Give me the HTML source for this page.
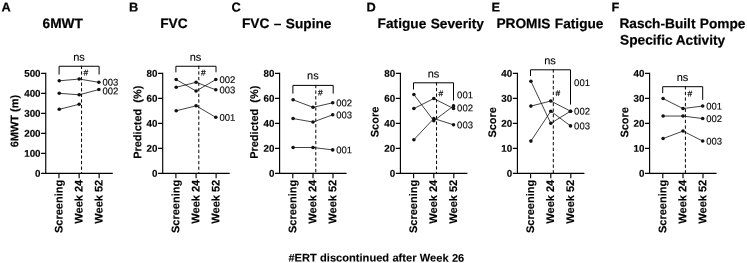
<!DOCTYPE html>
<html lang="en">
<head>
<meta charset="utf-8">
<title>Figure</title>
<style>
html,body{margin:0;padding:0;background:#fff;}
body{width:747px;height:263px;overflow:hidden;}
svg{display:block;font-family:"Liberation Sans", Arial, Helvetica, sans-serif;text-rendering:geometricPrecision;}
.pl{font-size:12.8px;font-weight:bold;fill:#000;stroke:#000;stroke-width:0.2;}
.tt{font-size:13.7px;font-weight:bold;fill:#000;stroke:#000;stroke-width:0.2;word-spacing:0.6px;}
.ns{font-size:11px;fill:#000;stroke:#000;stroke-width:0.12;text-anchor:middle;}
.tk{font-size:9.8px;font-weight:bold;fill:#000;stroke:#000;stroke-width:0.15;text-anchor:end;}
.sl{font-size:9.5px;fill:#000;stroke:#000;stroke-width:0.12;}
.hs{font-size:8.4px;fill:#000;stroke:#000;stroke-width:0.2;}
.al{font-size:11px;font-weight:bold;fill:#000;stroke:#000;stroke-width:0.15;}
.ft{font-size:11.1px;font-weight:bold;fill:#000;stroke:#000;stroke-width:0.1;word-spacing:0.25px;}
.ax{stroke:#000;stroke-width:1.15;fill:none;}
.ln{stroke:#111;stroke-width:0.8;fill:none;}
.br{stroke:#000;stroke-width:1;fill:none;}
.ds{stroke:#000;stroke-width:1;stroke-dasharray:3.3 2.3;fill:none;}
.pt{fill:#111;}
</style>
</head>
<body>
<svg width="747" height="263" viewBox="0 0 747 263">
<rect width="747" height="263" fill="#ffffff"/>
<g>
<text class="pl" transform="translate(1.60 11.40) rotate(0.05)">A</text>
<text class="tt" transform="translate(42.60 28.10) rotate(0.05)">6MWT</text>
<path class="ax" d="M45.75 72.8V173.3M41.15 173.3H112.75"/>
<path class="ax" d="M41.15 153.30H45.75M41.15 133.30H45.75M41.15 113.30H45.75M41.15 93.30H45.75M41.15 73.30H45.75M58.95 173.3V178.3M79.15 173.3V178.3M99.15 173.3V178.3"/>
<text class="tk" transform="translate(40.55 176.80) rotate(0.05)">0</text>
<text class="tk" transform="translate(40.55 156.80) rotate(0.05)">100</text>
<text class="tk" transform="translate(40.55 136.80) rotate(0.05)">200</text>
<text class="tk" transform="translate(40.55 116.80) rotate(0.05)">300</text>
<text class="tk" transform="translate(40.55 96.80) rotate(0.05)">400</text>
<text class="tk" transform="translate(40.55 76.80) rotate(0.05)">500</text>
<text class="al" transform="translate(18.3 121.1) rotate(-89.95)" text-anchor="middle" xml:space="preserve">6MWT (m)</text>
<text class="al" transform="translate(62.45 179.8) rotate(-89.95)" text-anchor="end">Screening</text>
<text class="al" transform="translate(82.45 179.8) rotate(-89.95)" text-anchor="end">Week 24</text>
<text class="al" transform="translate(102.45 179.8) rotate(-89.95)" text-anchor="end">Week 52</text>
<text class="ns" transform="translate(79.00 60.75) rotate(0.05)">ns</text>
<path class="br" d="M59.1 74.55V66.25H99.1V74.55"/>
<path class="ds" d="M81.55 65.75V173.3"/>
<text class="hs" transform="translate(83.60 75.50) rotate(0.05)">#</text>
<polyline class="ln" points="59.25,80.80 79.15,79.05 98.85,82.30"/>
<circle class="pt" cx="59.25" cy="80.80" r="1.8"/>
<circle class="pt" cx="79.15" cy="79.05" r="1.8"/>
<circle class="pt" cx="98.85" cy="82.30" r="1.8"/>
<text class="sl" transform="translate(102.45 85.40) rotate(0.05)">003</text>
<polyline class="ln" points="59.25,93.30 79.15,94.80 98.85,89.55"/>
<circle class="pt" cx="59.25" cy="93.30" r="1.8"/>
<circle class="pt" cx="79.15" cy="94.80" r="1.8"/>
<circle class="pt" cx="98.85" cy="89.55" r="1.8"/>
<text class="sl" transform="translate(102.45 94.20) rotate(0.05)">002</text>
<polyline class="ln" points="59.25,109.30 79.15,104.30"/>
<circle class="pt" cx="59.25" cy="109.30" r="1.8"/>
<circle class="pt" cx="79.15" cy="104.30" r="1.8"/>
</g>
<g>
<text class="pl" transform="translate(129.00 11.40) rotate(0.05)">B</text>
<text class="tt" transform="translate(160.20 28.10) rotate(0.05)">FVC</text>
<path class="ax" d="M162.7 72.8V173.3M158.1 173.3H229.7"/>
<path class="ax" d="M158.1 148.30H162.7M158.1 123.30H162.7M158.1 98.30H162.7M158.1 73.30H162.7M175.89999999999998 173.3V178.3M196.1 173.3V178.3M216.1 173.3V178.3"/>
<text class="tk" transform="translate(157.50 176.80) rotate(0.05)">0</text>
<text class="tk" transform="translate(157.50 151.80) rotate(0.05)">20</text>
<text class="tk" transform="translate(157.50 126.80) rotate(0.05)">40</text>
<text class="tk" transform="translate(157.50 101.80) rotate(0.05)">60</text>
<text class="tk" transform="translate(157.50 76.80) rotate(0.05)">80</text>
<text class="al" transform="translate(141.2 122.2) rotate(-89.95)" text-anchor="middle" xml:space="preserve">Predicted  (%)</text>
<text class="al" transform="translate(179.40 179.8) rotate(-89.95)" text-anchor="end">Screening</text>
<text class="al" transform="translate(199.40 179.8) rotate(-89.95)" text-anchor="end">Week 24</text>
<text class="al" transform="translate(219.40 179.8) rotate(-89.95)" text-anchor="end">Week 52</text>
<text class="ns" transform="translate(195.50 60.75) rotate(0.05)">ns</text>
<path class="br" d="M175.9 72.3V66.25H216.0V72.3"/>
<path class="ds" d="M198.80 65.75V173.3"/>
<text class="hs" transform="translate(200.90 75.50) rotate(0.05)">#</text>
<polyline class="ln" points="176.20,79.55 196.10,91.05 215.80,79.55"/>
<circle class="pt" cx="176.20" cy="79.55" r="1.8"/>
<circle class="pt" cx="196.10" cy="91.05" r="1.8"/>
<circle class="pt" cx="215.80" cy="79.55" r="1.8"/>
<text class="sl" transform="translate(219.40 82.95) rotate(0.05)">002</text>
<polyline class="ln" points="176.20,87.30 196.10,82.30 215.80,89.80"/>
<circle class="pt" cx="176.20" cy="87.30" r="1.8"/>
<circle class="pt" cx="196.10" cy="82.30" r="1.8"/>
<circle class="pt" cx="215.80" cy="89.80" r="1.8"/>
<text class="sl" transform="translate(219.40 93.20) rotate(0.05)">003</text>
<polyline class="ln" points="176.20,110.80 196.10,105.80 215.80,117.30"/>
<circle class="pt" cx="176.20" cy="110.80" r="1.8"/>
<circle class="pt" cx="196.10" cy="105.80" r="1.8"/>
<circle class="pt" cx="215.80" cy="117.30" r="1.8"/>
<text class="sl" transform="translate(219.40 120.70) rotate(0.05)">001</text>
</g>
<g>
<text class="pl" transform="translate(231.50 11.40) rotate(0.05)">C</text>
<text class="tt" transform="translate(242.00 28.10) rotate(0.05)">FVC – Supine</text>
<path class="ax" d="M279.6 72.8V173.3M275.0 173.3H346.6"/>
<path class="ax" d="M275.0 148.30H279.6M275.0 123.30H279.6M275.0 98.30H279.6M275.0 73.30H279.6M292.8 173.3V178.3M313.0 173.3V178.3M333.0 173.3V178.3"/>
<text class="tk" transform="translate(274.40 176.80) rotate(0.05)">0</text>
<text class="tk" transform="translate(274.40 151.80) rotate(0.05)">20</text>
<text class="tk" transform="translate(274.40 126.80) rotate(0.05)">40</text>
<text class="tk" transform="translate(274.40 101.80) rotate(0.05)">60</text>
<text class="tk" transform="translate(274.40 76.80) rotate(0.05)">80</text>
<text class="al" transform="translate(257.9 122.2) rotate(-89.95)" text-anchor="middle" xml:space="preserve">Predicted  (%)</text>
<text class="al" transform="translate(296.30 179.8) rotate(-89.95)" text-anchor="end">Screening</text>
<text class="al" transform="translate(316.30 179.8) rotate(-89.95)" text-anchor="end">Week 24</text>
<text class="al" transform="translate(336.30 179.8) rotate(-89.95)" text-anchor="end">Week 52</text>
<text class="ns" transform="translate(312.90 79.20) rotate(0.05)">ns</text>
<path class="br" d="M292.9 93.6V85.4H333.2V93.6"/>
<path class="ds" d="M315.80 84.90V173.3"/>
<text class="hs" transform="translate(317.90 95.50) rotate(0.05)">#</text>
<polyline class="ln" points="293.10,99.80 313.00,107.30 332.70,102.80"/>
<circle class="pt" cx="293.10" cy="99.80" r="1.8"/>
<circle class="pt" cx="313.00" cy="107.30" r="1.8"/>
<circle class="pt" cx="332.70" cy="102.80" r="1.8"/>
<text class="sl" transform="translate(336.30 106.20) rotate(0.05)">002</text>
<polyline class="ln" points="293.10,118.55 313.00,122.05 332.70,114.80"/>
<circle class="pt" cx="293.10" cy="118.55" r="1.8"/>
<circle class="pt" cx="313.00" cy="122.05" r="1.8"/>
<circle class="pt" cx="332.70" cy="114.80" r="1.8"/>
<text class="sl" transform="translate(336.30 118.20) rotate(0.05)">003</text>
<polyline class="ln" points="293.10,147.50 313.00,147.50 332.70,149.90"/>
<circle class="pt" cx="293.10" cy="147.50" r="1.8"/>
<circle class="pt" cx="313.00" cy="147.50" r="1.8"/>
<circle class="pt" cx="332.70" cy="149.90" r="1.8"/>
<text class="sl" transform="translate(336.30 153.30) rotate(0.05)">001</text>
</g>
<g>
<text class="pl" transform="translate(366.50 11.40) rotate(0.05)">D</text>
<text class="tt" transform="translate(377.60 28.10) rotate(0.05)">Fatigue Severity</text>
<path class="ax" d="M400.4 72.8V173.3M395.79999999999995 173.3H467.4"/>
<path class="ax" d="M395.79999999999995 148.30H400.4M395.79999999999995 123.30H400.4M395.79999999999995 98.30H400.4M395.79999999999995 73.30H400.4M413.59999999999997 173.3V178.3M433.79999999999995 173.3V178.3M453.79999999999995 173.3V178.3"/>
<text class="tk" transform="translate(395.20 176.80) rotate(0.05)">0</text>
<text class="tk" transform="translate(395.20 151.80) rotate(0.05)">20</text>
<text class="tk" transform="translate(395.20 126.80) rotate(0.05)">40</text>
<text class="tk" transform="translate(395.20 101.80) rotate(0.05)">60</text>
<text class="tk" transform="translate(395.20 76.80) rotate(0.05)">80</text>
<text class="al" transform="translate(378.5 122.0) rotate(-89.95)" text-anchor="middle" xml:space="preserve">Score</text>
<text class="al" transform="translate(417.10 179.8) rotate(-89.95)" text-anchor="end">Screening</text>
<text class="al" transform="translate(437.10 179.8) rotate(-89.95)" text-anchor="end">Week 24</text>
<text class="al" transform="translate(457.10 179.8) rotate(-89.95)" text-anchor="end">Week 52</text>
<text class="ns" transform="translate(433.50 77.50) rotate(0.05)">ns</text>
<path class="br" d="M413.5 89.5V82.8H453.5V100.5"/>
<path class="ds" d="M436.55 82.30V173.3"/>
<text class="hs" transform="translate(438.50 96.30) rotate(0.05)">#</text>
<polyline class="ln" points="413.90,94.55 433.80,120.80 453.50,105.90"/>
<circle class="pt" cx="413.90" cy="94.55" r="1.8"/>
<circle class="pt" cx="433.80" cy="120.80" r="1.8"/>
<circle class="pt" cx="453.50" cy="105.90" r="1.8"/>
<text class="sl" transform="translate(457.10 98.20) rotate(0.05)">001</text>
<polyline class="ln" points="413.90,108.55 433.80,98.55 453.50,108.50"/>
<circle class="pt" cx="413.90" cy="108.55" r="1.8"/>
<circle class="pt" cx="433.80" cy="98.55" r="1.8"/>
<circle class="pt" cx="453.50" cy="108.50" r="1.8"/>
<text class="sl" transform="translate(457.10 111.20) rotate(0.05)">002</text>
<polyline class="ln" points="413.90,139.70 433.80,118.50 453.50,124.80"/>
<circle class="pt" cx="413.90" cy="139.70" r="1.8"/>
<circle class="pt" cx="433.80" cy="118.50" r="1.8"/>
<circle class="pt" cx="453.50" cy="124.80" r="1.8"/>
<text class="sl" transform="translate(457.10 128.20) rotate(0.05)">003</text>
</g>
<g>
<text class="pl" transform="translate(491.50 11.40) rotate(0.05)">E</text>
<text class="tt" transform="translate(496.40 28.10) rotate(0.05)">PROMIS Fatigue</text>
<path class="ax" d="M517.4 72.8V173.3M512.8 173.3H584.4"/>
<path class="ax" d="M512.8 148.30H517.4M512.8 123.30H517.4M512.8 98.30H517.4M512.8 73.30H517.4M530.6 173.3V178.3M550.8 173.3V178.3M570.8 173.3V178.3"/>
<text class="tk" transform="translate(512.20 176.80) rotate(0.05)">0</text>
<text class="tk" transform="translate(512.20 151.80) rotate(0.05)">10</text>
<text class="tk" transform="translate(512.20 126.80) rotate(0.05)">20</text>
<text class="tk" transform="translate(512.20 101.80) rotate(0.05)">30</text>
<text class="tk" transform="translate(512.20 76.80) rotate(0.05)">40</text>
<text class="al" transform="translate(496.0 122.3) rotate(-89.95)" text-anchor="middle" xml:space="preserve">Score</text>
<text class="al" transform="translate(534.10 179.8) rotate(-89.95)" text-anchor="end">Screening</text>
<text class="al" transform="translate(554.10 179.8) rotate(-89.95)" text-anchor="end">Week 24</text>
<text class="al" transform="translate(574.10 179.8) rotate(-89.95)" text-anchor="end">Week 52</text>
<text class="ns" transform="translate(550.00 64.20) rotate(0.05)">ns</text>
<path class="br" d="M530.5 76.0V69.8H570.5V104.6"/>
<path class="ds" d="M553.30 69.30V173.3"/>
<text class="hs" transform="translate(555.40 96.10) rotate(0.05)">#</text>
<polyline class="ln" points="530.90,81.30 550.80,123.30 570.50,111.20"/>
<circle class="pt" cx="530.90" cy="81.30" r="1.8"/>
<circle class="pt" cx="550.80" cy="123.30" r="1.8"/>
<circle class="pt" cx="570.50" cy="111.20" r="1.8"/>
<text class="sl" transform="translate(574.10 86.00) rotate(0.05)">001</text>
<polyline class="ln" points="530.90,106.10 550.80,101.00 570.50,111.20"/>
<circle class="pt" cx="530.90" cy="106.10" r="1.8"/>
<circle class="pt" cx="550.80" cy="101.00" r="1.8"/>
<circle class="pt" cx="570.50" cy="111.20" r="1.8"/>
<text class="sl" transform="translate(574.10 114.60) rotate(0.05)">002</text>
<polyline class="ln" points="530.90,141.10 550.80,111.20 570.50,125.90"/>
<circle class="pt" cx="530.90" cy="141.10" r="1.8"/>
<circle class="pt" cx="550.80" cy="111.20" r="1.8"/>
<circle class="pt" cx="570.50" cy="125.90" r="1.8"/>
<text class="sl" transform="translate(574.10 129.30) rotate(0.05)">003</text>
</g>
<g>
<text class="pl" transform="translate(611.50 11.40) rotate(0.05)">F</text>
<text class="tt" transform="translate(619.40 28.10) rotate(0.05)">Rasch-Built Pompe</text>
<text class="tt" style="word-spacing:-0.2px" transform="translate(620.10 44.60) rotate(0.05)">Specific Activity</text>
<path class="ax" d="M649.6 72.8V173.3M645.0 173.3H716.6"/>
<path class="ax" d="M645.0 148.30H649.6M645.0 123.30H649.6M645.0 98.30H649.6M645.0 73.30H649.6M662.8000000000001 173.3V178.3M683.0 173.3V178.3M703.0 173.3V178.3"/>
<text class="tk" transform="translate(644.40 176.80) rotate(0.05)">0</text>
<text class="tk" transform="translate(644.40 151.80) rotate(0.05)">10</text>
<text class="tk" transform="translate(644.40 126.80) rotate(0.05)">20</text>
<text class="tk" transform="translate(644.40 101.80) rotate(0.05)">30</text>
<text class="tk" transform="translate(644.40 76.80) rotate(0.05)">40</text>
<text class="al" transform="translate(628.2 122.3) rotate(-89.95)" text-anchor="middle" xml:space="preserve">Score</text>
<text class="al" transform="translate(666.30 179.8) rotate(-89.95)" text-anchor="end">Screening</text>
<text class="al" transform="translate(686.30 179.8) rotate(-89.95)" text-anchor="end">Week 24</text>
<text class="al" transform="translate(706.30 179.8) rotate(-89.95)" text-anchor="end">Week 52</text>
<text class="ns" transform="translate(682.50 81.00) rotate(0.05)">ns</text>
<path class="br" d="M662.7 93.1V86.7H702.7V99.8"/>
<path class="ds" d="M685.40 86.20V173.3"/>
<text class="hs" transform="translate(687.50 96.60) rotate(0.05)">#</text>
<polyline class="ln" points="663.10,98.55 683.00,108.55 702.70,106.05"/>
<circle class="pt" cx="663.10" cy="98.55" r="1.8"/>
<circle class="pt" cx="683.00" cy="108.55" r="1.8"/>
<circle class="pt" cx="702.70" cy="106.05" r="1.8"/>
<text class="sl" transform="translate(706.30 109.45) rotate(0.05)">001</text>
<polyline class="ln" points="663.10,116.05 683.00,116.05 702.70,118.55"/>
<circle class="pt" cx="663.10" cy="116.05" r="1.8"/>
<circle class="pt" cx="683.00" cy="116.05" r="1.8"/>
<circle class="pt" cx="702.70" cy="118.55" r="1.8"/>
<text class="sl" transform="translate(706.30 121.95) rotate(0.05)">002</text>
<polyline class="ln" points="663.10,138.55 683.00,131.05 702.70,141.05"/>
<circle class="pt" cx="663.10" cy="138.55" r="1.8"/>
<circle class="pt" cx="683.00" cy="131.05" r="1.8"/>
<circle class="pt" cx="702.70" cy="141.05" r="1.8"/>
<text class="sl" transform="translate(706.30 144.45) rotate(0.05)">003</text>
</g>
<text class="ft" transform="translate(288.40 261.50) rotate(0.05)">#ERT discontinued after Week 26</text>
</svg>
</body>
</html>
